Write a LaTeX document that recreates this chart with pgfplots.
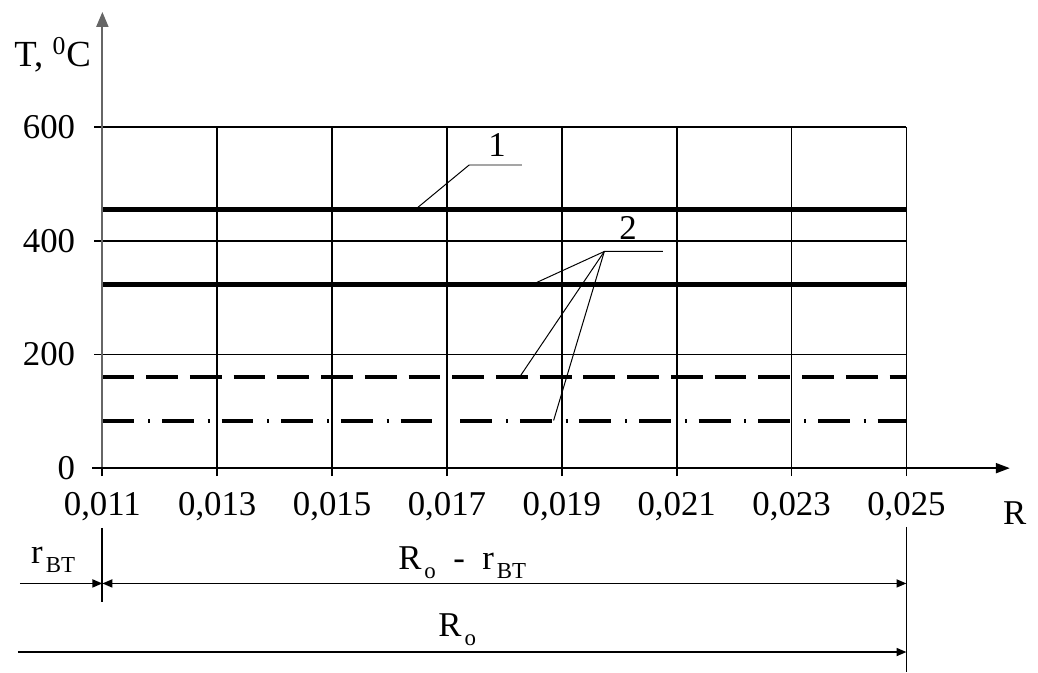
\documentclass[border=0pt]{standalone}
\usepackage{fontspec}
\setmainfont{Liberation Serif}
\usepackage{pgfplots}
\pgfplotsset{compat=1.18}
\usetikzlibrary{arrows.meta}
\newcommand\sub[1]{\kern1.5pt\raisebox{-4.5pt}{\fontsize{11.5}{12}\selectfont #1}}
\begin{document}
\fontsize{17.5}{20}\selectfont
\begin{tikzpicture}
\begin{scope}[x=0.5pt,y=-0.5pt]
\path[use as bounding box] (0,0) rectangle (1038,676);
\end{scope}
\begin{axis}[
  at={(51.5pt,-235.5pt)}, anchor=south west,
  scale only axis, width=404.5pt, height=171.5pt,
  xmin=0.011, xmax=0.025, ymin=0, ymax=600,
  scaled x ticks=false, scaled y ticks=false,
  xtick={0.011,0.013,0.015,0.017,0.019,0.021,0.023,0.025},
  xticklabels={{0,011},{0,013},{0,015},{0,017},{0,019},{0,021},{0,023},{0,025}},
  ytick={0,200,400,600},
  yticklabels={0,200,400,600},
  grid=major, grid style={black, line width=0.9pt},
  axis line style={draw=none},
  tick style={black, line width=0.9pt},
  tick align=outside, major tick length=4pt,
  xtick pos=left, ytick pos=left,
  tick label style={font=\fontsize{17.5}{20}\selectfont, inner sep=0pt},
  xticklabel style={anchor=north, yshift=-8pt},
  yticklabel style={anchor=east, xshift=-9.5pt},
  clip=false,
]
\addplot[black, line width=2.5pt] coordinates {(0.011,456) (0.025,456)};
\addplot[black, line width=2.5pt] coordinates {(0.011,323) (0.025,323)};
\addplot[black, line width=2pt, dash pattern=on 16pt off 6pt] coordinates {(0.011,161) (0.025,161)};
\addplot[black, line width=2pt, dash pattern=on 16pt off 7pt on 1pt off 6pt] coordinates {(0.011,83) (0.025,83)};
\end{axis}
\begin{scope}[x=0.5pt,y=-0.5pt]
% axes with arrows
\draw[black!60, line width=1pt, -{Triangle[length=7.5pt,width=6pt]}] (103,471) -- (103,12);
\draw[black, line width=0.9pt, -{Triangle[length=7pt,width=5pt]}] (93,471) -- (1016,471);
\node at (53,55) {\fontsize{18.5}{20}\selectfont T, \textsuperscript{0}C};
\node[anchor=base] at (1021,528) {R};
% curve labels
\node[anchor=base] at (500,157) {1};
\node[anchor=base] at (632,241) {2};
\draw[line width=0.5pt] (420,209) -- (472,166) -- (525,166);
\draw[line width=0.5pt] (536,286) -- (608,253) -- (667,253);
\draw[line width=0.5pt] (523,379) -- (608,253);
\draw[line width=0.5pt] (557,423) -- (608,253);
% dimension lines
\draw[line width=0.9pt] (103,531) -- (103,606);
\draw[line width=0.9pt] (912,530) -- (912,676);
\draw[line width=0.9pt, -{Triangle[length=5pt,width=4pt]}] (20,587) -- (103,587);
\draw[line width=0.9pt, {Triangle[length=5pt,width=4pt]}-{Triangle[length=5pt,width=4pt]}] (103,587) -- (912,587);
\draw[line width=0.9pt, -{Triangle[length=5pt,width=4pt]}] (18,656) -- (912,656);
\node[anchor=base west, inner sep=0pt] at (31,567) {r\sub{BT}};
\node[anchor=base, inner sep=0pt] at (465,573) {R\sub{o}\ \ -\ \ r\sub{BT}};
\node[anchor=base, inner sep=0pt] at (460,640) {R\sub{o}};
\end{scope}
\end{tikzpicture}
\end{document}
